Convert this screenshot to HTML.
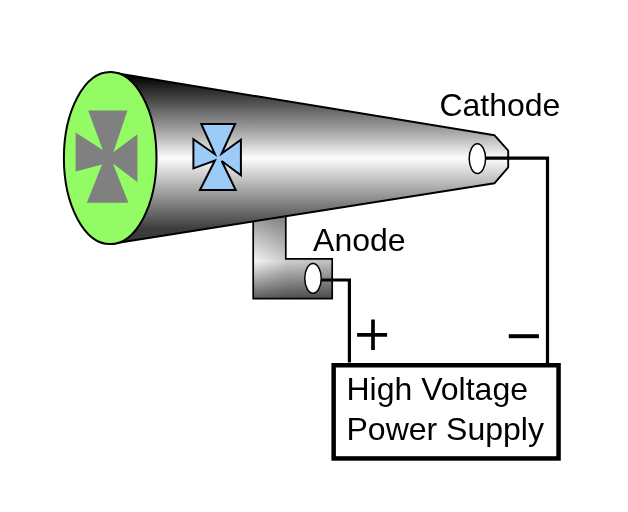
<!DOCTYPE html>
<html><head><meta charset="utf-8">
<style>
html,body{margin:0;padding:0;background:#fff;}
svg{display:block;will-change:transform;}
text{font-family:"Liberation Sans",sans-serif;font-size:32px;fill:#000;}
</style></head><body>
<svg width="628" height="512" viewBox="0 0 628 512">
<defs>
<linearGradient id="tg" gradientUnits="userSpaceOnUse" x1="0" y1="72" x2="0" y2="244">
<stop offset="0" stop-color="#000"/>
<stop offset="0.02" stop-color="#000"/>
<stop offset="0.37" stop-color="#b2b2b2"/>
<stop offset="0.5" stop-color="#fdfdfd"/>
<stop offset="0.913" stop-color="#3c3c3c"/>
<stop offset="1" stop-color="#383838"/>
</linearGradient>
<linearGradient id="ag" gradientUnits="userSpaceOnUse" x1="0" y1="217" x2="0" y2="299">
<stop offset="0" stop-color="#989898"/>
<stop offset="0.54" stop-color="#f6f6f6"/>
<stop offset="1" stop-color="#5c5c5c"/>
</linearGradient>
<linearGradient id="ag2" gradientUnits="userSpaceOnUse" x1="253" y1="0" x2="332" y2="0">
<stop offset="0" stop-color="#000" stop-opacity="0"/>
<stop offset="0.42" stop-color="#000" stop-opacity="0.17"/>
<stop offset="1" stop-color="#000" stop-opacity="0.22"/>
</linearGradient>
</defs>
<rect width="628" height="512" fill="#fff"/>
<!-- anode -->
<path d="M253.2 215 L285.8 215 L285.8 258.9 L332.2 258.9 L332.2 298.7 L253.2 298.7 Z" fill="url(#ag)"/>
<path d="M253.2 215 L285.8 215 L285.8 258.9 L332.2 258.9 L332.2 298.7 L253.2 298.7 Z" fill="url(#ag2)" stroke="#000" stroke-width="1.7"/>
<!-- tube -->
<path d="M110.5 72.3 L494.6 135.3 L508.2 150.7 L508.2 167.3 L494.6 183.2 L110.5 244 Z" fill="url(#tg)" stroke="#000" stroke-width="1.9" stroke-linejoin="round"/>
<!-- screen -->
<ellipse cx="110.2" cy="158.1" rx="46.3" ry="86" fill="#93fc64" stroke="#000" stroke-width="2"/>
<path d="M88.2 110.6 L127.5 110.6 L113.3 152.2 L137.4 134.2 L137.4 182.1 L112.9 163.6 L128.4 202.8 L86.8 202.8 L102.1 164.5 L75.6 171.5 L75.6 132.6 L102.8 149.9 Z" fill="#808080"/>
<!-- blue cross -->
<path d="M201.3 123.9 L235.1 123.9 L221.7 153.6 L240.9 139.7 L240.9 175.3 L221.7 161 L235.7 190.1 L200 190.1 L214.9 160.5 L193.4 168.4 L193.4 139.1 L214.9 154.2 Z" fill="#9ccbf8" stroke="#000" stroke-width="2"/>
<!-- electrodes -->
<ellipse cx="477.4" cy="158.6" rx="8.2" ry="14.9" fill="#fff" stroke="#000" stroke-width="1.5"/>
<ellipse cx="313.0" cy="278.3" rx="8.25" ry="14.85" fill="#fff" stroke="#000" stroke-width="1.5"/>
<!-- wires -->
<path d="M485.8 158.1 L547.5 158.1 L547.5 363.2" fill="none" stroke="#000" stroke-width="3.2"/>
<path d="M321.3 280 L349.4 280 L349.4 362.6" fill="none" stroke="#000" stroke-width="3.2"/>
<!-- box -->
<rect x="333.65" y="365.25" width="224.9" height="93.2" fill="#fff" stroke="#000" stroke-width="4.5"/>
<!-- plus minus -->
<path d="M357.1 334.8 H387.1 M373 319.5 V349.9" stroke="#000" stroke-width="3.7" fill="none"/>
<path d="M508.8 336.2 H538.9" stroke="#000" stroke-width="4" fill="none"/>
<text x="439.4" y="115.5">Cathode</text>
<text x="313.1" y="250.7">Anode</text>
<text x="346.5" y="399.5">High Voltage</text>
<text x="346.5" y="440.2">Power Supply</text>
</svg>
</body></html>
